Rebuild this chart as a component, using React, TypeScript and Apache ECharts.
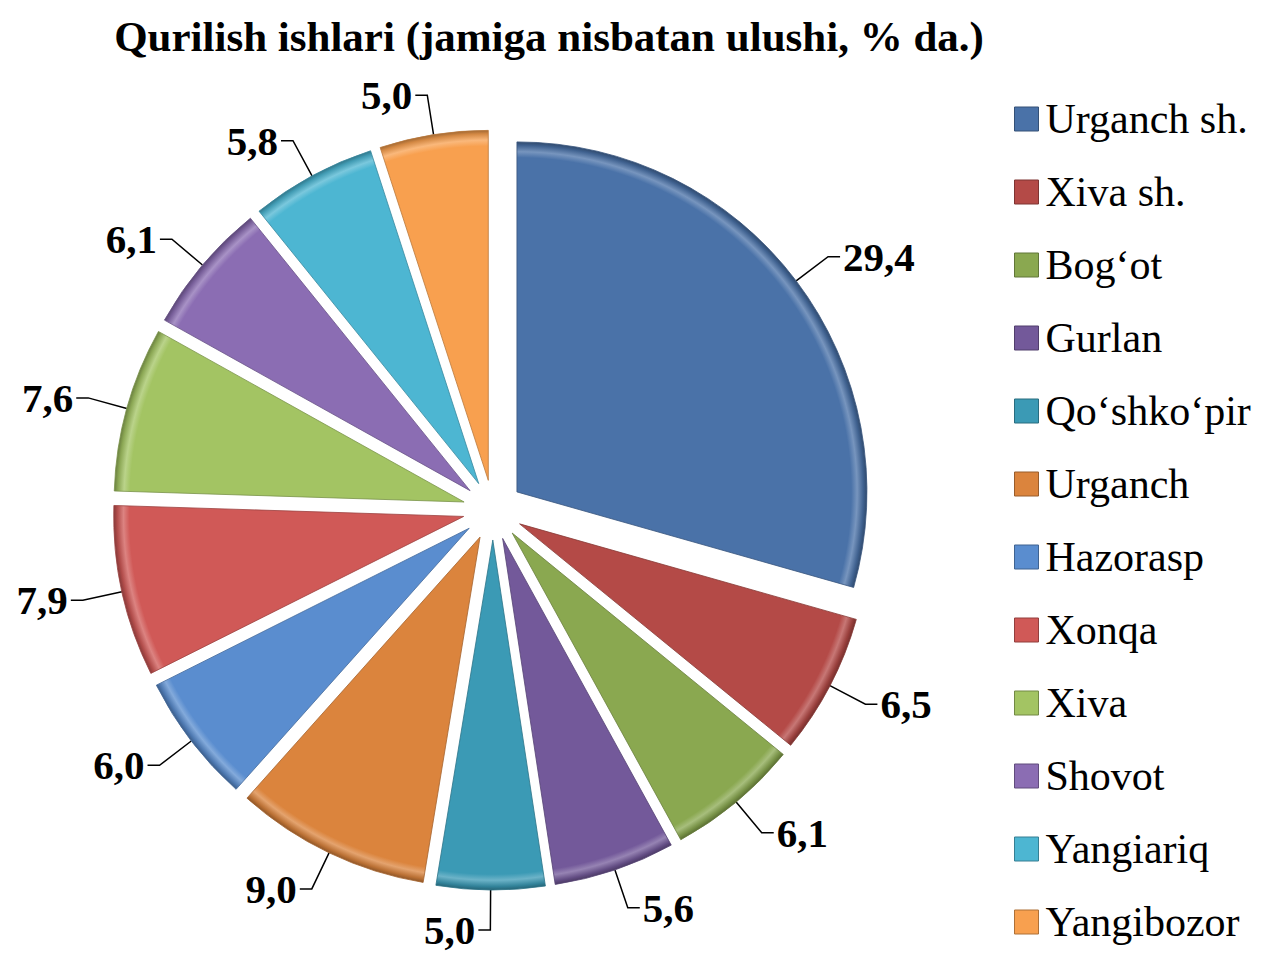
import React, { useEffect, useRef } from "react";
import * as echarts from "echarts";

const categories = [
  "Urganch sh.",
  "Xiva sh.",
  "Bog‘ot",
  "Gurlan",
  "Qo‘shko‘pir",
  "Urganch",
  "Hazorasp",
  "Xonqa",
  "Xiva",
  "Shovot",
  "Yangiariq",
  "Yangibozor",
];
const values = [29.4, 6.5, 6.1, 5.6, 5.0, 9.0, 6.0, 7.9, 7.6, 6.1, 5.8, 5.0];
const colors = [
  "#4A72A8",
  "#B44A47",
  "#8AA850",
  "#73599A",
  "#3B9AB5",
  "#DB843D",
  "#5A8DCF",
  "#D05957",
  "#A3C463",
  "#8B6DB3",
  "#4DB6D2",
  "#F8A04F",
];
const title = "Qurilish ishlari (jamiga nisbatan ulushi, % da.)";

const CX = 493;
const CY = 510;
const R = 350;

function shade(hex: string, f: number): string {
  const n = parseInt(hex.slice(1), 16);
  let r = (n >> 16) & 255, g = (n >> 8) & 255, b = n & 255;
  if (f < 0) {
    r = Math.round(r * (1 + f)); g = Math.round(g * (1 + f)); b = Math.round(b * (1 + f));
  } else {
    r = Math.round(r + (255 - r) * f); g = Math.round(g + (255 - g) * f); b = Math.round(b + (255 - b) * f);
  }
  return `rgb(${r},${g},${b})`;
}

export default function App() {
  const ref = useRef<HTMLDivElement>(null);
  useEffect(() => {
    if (!ref.current) return;
    const chart = echarts.init(ref.current, undefined, { renderer: "svg" });
    const data = categories.map((name, i) => ({
      name,
      value: values[i],
      selected: true,
      itemStyle: {
        color: {
          type: "radial",
          global: true,
          x: CX,
          y: CY,
          r: R,
          colorStops: [
            { offset: 0, color: colors[i] },
            { offset: 0.955, color: colors[i] },
            { offset: 0.972, color: shade(colors[i], 0.25) },
            { offset: 0.99, color: shade(colors[i], -0.15) },
            { offset: 1, color: shade(colors[i], -0.35) },
          ],
        },
        borderColor: shade(colors[i], -0.25),
        borderWidth: 0.8,
      },
    }));
    chart.setOption({
      animation: false,
      backgroundColor: "#ffffff",
      color: colors,
      title: {
        text: title,
        left: 544,
        top: 10,
        textAlign: "center",
        textStyle: {
          fontFamily: "Liberation Serif",
          fontWeight: "bold",
          fontSize: 43,
          color: "#000",
        },
      },
      legend: {
        orient: "vertical",
        left: 1009,
        top: 92,
        icon: "rect",
        itemWidth: 24,
        itemHeight: 24,
        itemGap: 29,
        selectedMode: false,
        data: categories.map((name, i) => ({
          name,
          itemStyle: { color: colors[i], borderColor: shade(colors[i], -0.3), borderWidth: 1 },
        })),
        textStyle: {
          fontFamily: "Liberation Serif",
          fontSize: 42,
          lineHeight: 44,
          color: "#000",
          padding: [0, 0, 0, 2],
        },
      },
      series: [
        {
          type: "pie",
          center: [CX, CY],
          radius: [0, R],
          startAngle: 90,
          clockwise: true,
          selectedMode: "multiple",
          selectedOffset: 30,
          avoidLabelOverlap: false,
          emphasis: { disabled: true },
          data,
          label: {
            show: true,
            position: "outside",
            formatter: (p: any) => p.value.toFixed(1).replace(".", ","),
            fontFamily: "Liberation Serif",
            fontWeight: "bold",
            fontSize: 41,
            color: "#000",
            distanceToLabelLine: 3,
          },
          labelLine: {
            show: true,
            length: 40,
            length2: 12,
            smooth: false,
            lineStyle: { color: "#000", width: 1.5 },
          },
        },
      ],
    });
    return () => chart.dispose();
  }, []);
  return (
    <div
      ref={ref}
      style={{ position: "fixed", left: 0, top: 0, width: 1261, height: 965, background: "#fff" }}
    />
  );
}
